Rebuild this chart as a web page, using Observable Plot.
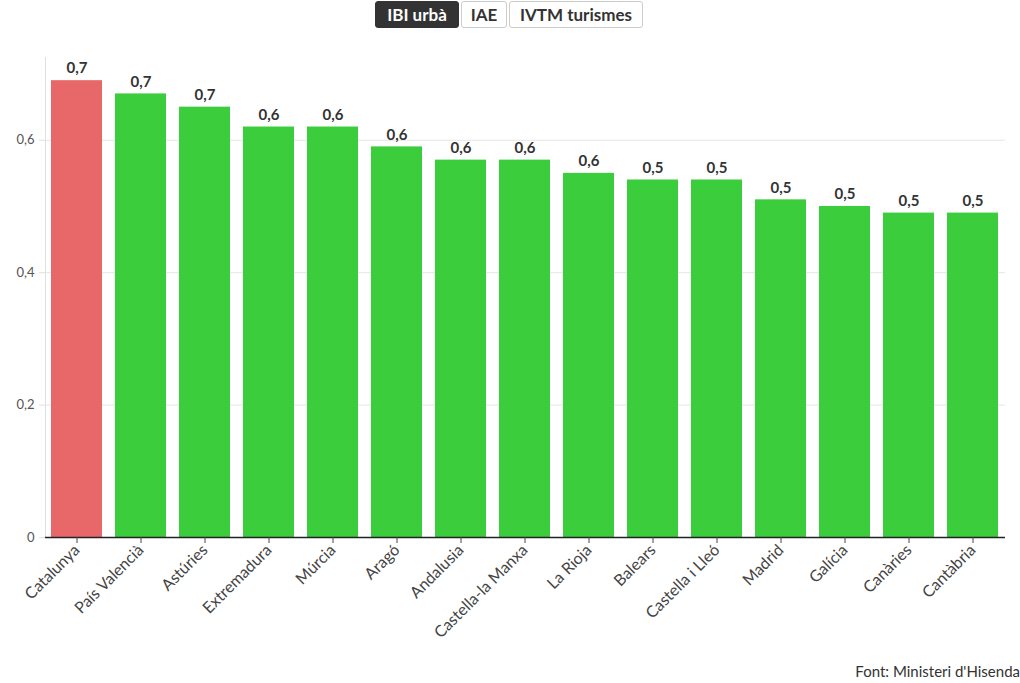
<!DOCTYPE html>
<html>
<head>
<meta charset="utf-8">
<script src="https://cdn.jsdelivr.net/npm/d3@7"></script>
<script src="https://cdn.jsdelivr.net/npm/@observablehq/plot@0.6"></script>
<style>
  html, body { margin: 0; padding: 0; background: #fff; }
  body { width: 1020px; height: 683px; position: relative; overflow: hidden;
         font-family: "Source Sans Pro", Lato, "Noto Sans", sans-serif; }
  #buttons { position: absolute; top: 0; left: 0; width: 1020px; height: 30px; }
  .btn { position: absolute; top: 1px; height: 27px; box-sizing: border-box; border: 1px solid #ccc;
         border-radius: 3px; background: #fff; color: #333; font-weight: bold; font-size: 17px;
         line-height: 25px; text-align: center; }
  .btn.active { background: #333; border-color: #333; color: #fff; }
  #chart { position: absolute; top: 30px; left: 0; }
  #caption { position: absolute; right: 0px; top: 662px; font-size: 15px; color: #333; }
</style>
</head>
<body>
<div id="buttons"></div>
<div id="chart"></div>
<div id="caption"></div>
<script>
const regions = ["Catalunya","País Valencià","Astúries","Extremadura","Múrcia","Aragó","Andalusia","Castella-la Manxa","La Rioja","Balears","Castella i Lleó","Madrid","Galícia","Canàries","Cantàbria"];
const values = [0.69,0.67,0.65,0.62,0.62,0.59,0.57,0.57,0.55,0.54,0.54,0.51,0.50,0.49,0.49];
const highlight = "Catalunya";
const buttonLabels = ["IBI urbà","IAE","IVTM turismes"];
const yTicks = [0, 0.2, 0.4, 0.6];
const captionText = "Font: Ministeri d'Hisenda";

const RED = "#e8686a", GREEN = "#3ccd3d";
const data = regions.map((r, i) => ({region: r, value: values[i]}));
const fmt = v => v === 0 ? "0" : v.toFixed(1).replace(".", ",");

// buttons
const btnPos = [[375, 84], [461, 46], [509, 134]];
const bd = document.getElementById("buttons");
buttonLabels.forEach((b, i) => {
  const el = document.createElement("div");
  el.className = "btn" + (i === 0 ? " active" : "");
  el.style.left = btnPos[i][0] + "px";
  el.style.width = btnPos[i][1] + "px";
  el.textContent = b;
  bd.appendChild(el);
});
document.getElementById("caption").textContent = captionText;

const chart = Plot.plot({
  width: 1020,
  height: 630,
  marginLeft: 45,
  marginRight: 15,
  marginTop: 27,
  marginBottom: 123,
  style: {fontFamily: "'Source Sans Pro', Lato, 'Noto Sans', sans-serif", background: "#fff"},
  x: {type: "band", domain: regions, paddingInner: 0.2, paddingOuter: 0.1, label: null},
  y: {domain: [0, 0.725], label: null},
  marks: [
    Plot.gridY(yTicks, {stroke: "#e6e6e6", strokeOpacity: 1}),
    Plot.frame({anchor: "left", stroke: "#e0e0e0", strokeOpacity: 1}),
    Plot.axisY(yTicks, {tickFormat: fmt, tickSize: 6, stroke: "#e0e0e0", fill: "#555", fontSize: 13, tickPadding: 5}),
    Plot.barY(data, {x: "region", y: "value", fill: d => d.region === highlight ? RED : GREEN}),
    Plot.ruleY([0], {stroke: "#222", strokeWidth: 1.3}),
    Plot.axisX({tickRotate: -45, tickSize: 6, stroke: "#444", fill: "#444", fontSize: 16, tickPadding: 4}),
    Plot.text(data, {x: "region", y: "value", text: d => fmt(d.value), dy: -12, fontWeight: "bold", fontSize: 15, fill: "#333"})
  ]
});
document.getElementById("chart").appendChild(chart);
</script>
</body>
</html>
